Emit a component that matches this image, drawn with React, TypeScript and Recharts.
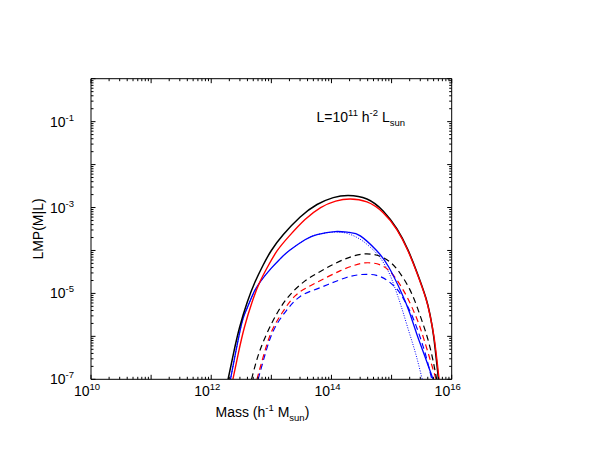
import { LineChart, Line, XAxis, YAxis } from "recharts";

// log10(M) and log10(LMP)
const BLACK_SOLID_M = [12.28, 12.37, 12.47, 12.6, 12.73, 12.86, 13.0, 13.2, 13.48, 13.76, 14.03, 14.28, 14.59, 14.86, 15.09, 15.27, 15.42, 15.57, 15.64, 15.7, 15.78];
const BLACK_SOLID_L = [-7, -6.4, -5.8, -5.2, -4.73, -4.35, -4.0, -3.63, -3.22, -2.93, -2.77, -2.72, -2.8, -3.08, -3.5, -3.98, -4.5, -5.1, -5.5, -6.0, -7];

const RED_SOLID_M = [12.36, 12.45, 12.55, 12.68, 12.81, 12.95, 13.1, 13.3, 13.56, 13.82, 14.07, 14.31, 14.59, 14.86, 15.09, 15.27, 15.42, 15.57, 15.64, 15.71, 15.79];
const RED_SOLID_L = [-7, -6.4, -5.8, -5.2, -4.73, -4.35, -4.0, -3.66, -3.28, -3.0, -2.85, -2.8, -2.87, -3.12, -3.52, -4.0, -4.52, -5.12, -5.52, -6.05, -7];

const BLUE_SOLID_M = [12.32, 12.49, 12.58, 12.7, 12.83, 13.0, 13.15, 13.3, 13.56, 13.76, 14.06, 14.3, 14.48, 14.75, 14.95, 15.17, 15.3, 15.42, 15.55, 15.69];
const BLUE_SOLID_L = [-7, -5.8, -5.4, -5.0, -4.7, -4.41, -4.19, -4.0, -3.75, -3.63, -3.56, -3.58, -3.66, -4.0, -4.38, -5.0, -5.45, -5.95, -6.45, -7];

const BLUE_DOT_M = [12.32, 12.49, 12.58, 12.7, 12.83, 13.0, 13.15, 13.3, 13.56, 13.76, 14.06, 14.3, 14.5, 14.65, 14.8, 14.95, 15.05, 15.16, 15.28, 15.4, 15.51];
const BLUE_DOT_L = [-7, -5.8, -5.4, -5.0, -4.7, -4.41, -4.19, -4.0, -3.75, -3.63, -3.57, -3.62, -3.76, -3.93, -4.15, -4.5, -4.85, -5.3, -5.85, -6.4, -7];

const BLACK_DASH_M = [12.67, 12.78, 12.92, 13.1, 13.3, 13.55, 13.8, 14.05, 14.3, 14.55, 14.8, 15.0, 15.15, 15.3, 15.42, 15.52, 15.6, 15.68, 15.75];
const BLACK_DASH_L = [-7, -6.45, -5.95, -5.45, -5.05, -4.72, -4.5, -4.31, -4.16, -4.08, -4.13, -4.3, -4.55, -4.9, -5.3, -5.7, -6.05, -6.5, -7];

const RED_DASH_M = [12.76, 12.87, 13.0, 13.18, 13.4, 13.65, 13.9, 14.15, 14.35, 14.55, 14.8, 15.0, 15.15, 15.27, 15.4, 15.5, 15.6, 15.74];
const RED_DASH_L = [-7, -6.45, -5.9, -5.45, -5.05, -4.82, -4.64, -4.47, -4.36, -4.29, -4.33, -4.53, -4.82, -5.12, -5.52, -5.9, -6.35, -7];

const BLUE_DASH_M = [12.78, 12.9, 13.04, 13.25, 13.48, 13.75, 14.0, 14.25, 14.5, 14.75, 14.95, 15.1, 15.22, 15.35, 15.47, 15.57, 15.67];
const BLUE_DASH_L = [-7, -6.4, -5.85, -5.4, -5.07, -4.9, -4.76, -4.63, -4.56, -4.58, -4.72, -4.92, -5.18, -5.55, -6.0, -6.45, -7];

const X_DECADES = [10, 11, 12, 13, 14, 15, 16];
const Y_DECADES = [-7, -6, -5, -4, -3, -2, -1, 0];
const X_LABEL_EXP = [10, 12, 14, 16];
const Y_LABEL_EXP = [-1, -3, -5, -7];
const MINOR = [2, 3, 4, 5, 6, 7, 8, 9];

const FONT = "'Liberation Sans', Arial, Helvetica, sans-serif";

function logTicks(decades: number[]) {
  const out: number[] = [];
  decades.forEach((d, i) => {
    out.push(Math.pow(10, d));
    if (i < decades.length - 1) MINOR.forEach((k) => out.push(k * Math.pow(10, d)));
  });
  return out;
}

const X_TICKS = logTicks(X_DECADES);
const Y_TICKS = logTicks(Y_DECADES);

const pts = (m: number[], l: number[]) => m.map((v, i) => ({ x: Math.pow(10, v), y: Math.pow(10, l[i]) }));

function exponent(v: number) {
  const e = Math.log10(v);
  const r = Math.round(e);
  return { major: Math.abs(e - r) < 1e-6, e: r };
}

function XTick(props: any) {
  const x = Number(props.x);
  const y = Number(props.y);
  const { payload, side } = props;
  const { major, e } = exponent(payload.value);
  const dir = side === "bottom" ? -1 : 1;
  const len = major ? 4.5 : 2.5;
  return (
    <g>
      <line x1={x} x2={x} y1={y} y2={y + dir * len} stroke="#000" strokeWidth={1} />
      {side === "bottom" && major && X_LABEL_EXP.includes(e) && (
        <text x={x - 4} y={y + 17} textAnchor="middle" fontSize={14} fontFamily={FONT} fill="#000">
          10<tspan dy={-6} fontSize={9.5}>{e}</tspan>
        </text>
      )}
    </g>
  );
}

function YTick(props: any) {
  const x = Number(props.x);
  const y = Number(props.y);
  const { payload, side } = props;
  const { major, e } = exponent(payload.value);
  const dir = side === "left" ? 1 : -1;
  const len = major ? 4.5 : 2.5;
  return (
    <g>
      <line x1={x} x2={x + dir * len} y1={y} y2={y} stroke="#000" strokeWidth={1} />
      {side === "left" && major && Y_LABEL_EXP.includes(e) && (
        <text x={x - 17} y={y + 5} textAnchor="end" fontSize={14} fontFamily={FONT} fill="#000">
          10<tspan dy={-6} fontSize={9.5}>{`-${-e}`}</tspan>
        </text>
      )}
    </g>
  );
}

const axisCommon = {
  type: "number" as const,
  scale: "log" as const,
  allowDataOverflow: true,
  interval: 0,
  tickLine: false,
  tickSize: 0,
  tickMargin: 0,
  axisLine: { stroke: "#000", strokeWidth: 1 },
};

const lineCommon = {
  xAxisId: "b",
  yAxisId: "l",
  dataKey: "y",
  type: "natural" as const,
  dot: false,
  isAnimationActive: false,
};

export default function App() {
  return (
    <div style={{ position: "absolute", left: 0, top: 0, width: 592, height: 458, background: "#fff" }}>
      <LineChart width={592} height={458} margin={{ top: 77.7, right: 139.3, bottom: 38.7, left: 0 }}>
        <XAxis
          {...axisCommon}
          xAxisId="b"
          dataKey="x"
          domain={[1e10, 1e16]}
          ticks={X_TICKS}
          height={40}
          tick={(p: any) => <XTick {...p} side="bottom" />}
        />
        <XAxis
          {...axisCommon}
          xAxisId="t"
          orientation="top"
          dataKey="x"
          domain={[1e10, 1e16]}
          ticks={X_TICKS}
          height={1}
          tick={(p: any) => <XTick {...p} side="top" />}
        />
        <YAxis
          {...axisCommon}
          yAxisId="l"
          dataKey="y"
          domain={[1e-7, 1]}
          ticks={Y_TICKS}
          width={91}
          tick={(p: any) => <YTick {...p} side="left" />}
        />
        <YAxis
          {...axisCommon}
          yAxisId="r"
          orientation="right"
          dataKey="y"
          domain={[1e-7, 1]}
          ticks={Y_TICKS}
          width={1}
          tick={(p: any) => <YTick {...p} side="right" />}
        />
        <Line {...lineCommon} data={pts(BLUE_DOT_M, BLUE_DOT_L)} stroke="#0000ff" strokeWidth={1} strokeDasharray="1 1.5" />
        <Line {...lineCommon} data={pts(BLUE_DASH_M, BLUE_DASH_L)} stroke="#0000ff" strokeWidth={1.2} strokeDasharray="6 4" />
        <Line {...lineCommon} data={pts(RED_DASH_M, RED_DASH_L)} stroke="#ff0000" strokeWidth={1.2} strokeDasharray="6 4" />
        <Line {...lineCommon} data={pts(BLACK_DASH_M, BLACK_DASH_L)} stroke="#000000" strokeWidth={1.2} strokeDasharray="6 4" />
        <Line {...lineCommon} data={pts(BLUE_SOLID_M, BLUE_SOLID_L)} stroke="#0000ff" strokeWidth={1.3} />
        <Line {...lineCommon} data={pts(BLACK_SOLID_M, BLACK_SOLID_L)} stroke="#000000" strokeWidth={1.5} />
        <Line {...lineCommon} data={pts(RED_SOLID_M, RED_SOLID_L)} stroke="#ff0000" strokeWidth={1.4} />
        <text x={38} y={229} transform="rotate(-90 38 229)" textAnchor="middle" dominantBaseline="central" fontSize={14} fontFamily={FONT} fill="#000">
          LMP(M|L)
        </text>
        <text x={215.5} y={416.5} fontSize={14} fontFamily={FONT} fill="#000">
          Mass (h<tspan dy={-6} fontSize={9.5}>-1</tspan>
          <tspan dy={6}> M</tspan>
          <tspan dy={4} fontSize={9.5}>sun</tspan>
          <tspan dy={-4}>)</tspan>
        </text>
        <text x={316.5} y={121.7} fontSize={14} fontFamily={FONT} fill="#000">
          L=10<tspan dy={-6} fontSize={9.5}>11</tspan>
          <tspan dy={6}> h</tspan>
          <tspan dy={-6} fontSize={9.5}>-2</tspan>
          <tspan dy={6}> L</tspan>
          <tspan dy={4} fontSize={9.5}>sun</tspan>
        </text>
      </LineChart>
    </div>
  );
}
